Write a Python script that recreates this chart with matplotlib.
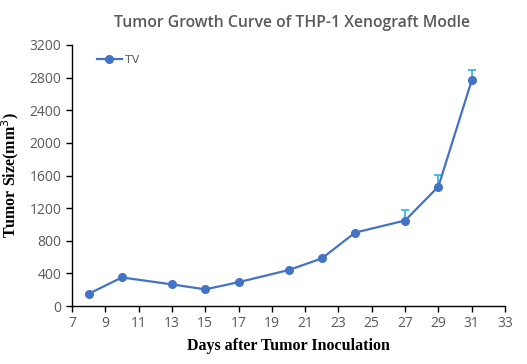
import matplotlib
matplotlib.use("Agg")
import matplotlib.pyplot as plt

# data
days = [8, 10, 13, 15, 17, 20, 22, 24, 27, 29, 31]
tv = [150, 350, 265, 204, 292, 440, 583, 900, 1048, 1464, 2765]
tv_err = [0, 0, 0, 0, 0, 0, 0, 0, 135, 138, 132]

x_ticks = list(range(7, 34, 2))
y_ticks = list(range(0, 3201, 400))

fig = plt.figure(figsize=(5.27, 3.64), dpi=100)
ax = fig.add_axes([72 / 527, 1 - 306 / 364, 433 / 527, 261 / 364])

# upper error bars only, drawn in light blue
ax.errorbar(days, tv, yerr=[[0] * len(tv_err), tv_err], fmt="none",
            ecolor="#2AB3E6", elinewidth=1.2, capsize=3, capthick=1.2, zorder=2)
ax.plot(days, tv, color="#4472C4", lw=1.6, marker="o", ms=5.5,
        label="TV", zorder=3)

ax.set_xlim(7, 33)
ax.set_ylim(0, 3200)
ax.set_xticks(x_ticks)
ax.set_yticks(y_ticks)

for s in ["top", "right"]:
    ax.spines[s].set_visible(False)
for s in ["left", "bottom"]:
    ax.spines[s].set_color("black")
    ax.spines[s].set_linewidth(1.0)

ax.tick_params(axis="both", direction="out", length=4, width=1.0,
               labelsize=10, labelcolor="#595959", colors="black")
for lbl in ax.get_xticklabels() + ax.get_yticklabels():
    lbl.set_color("#595959")
    lbl.set_family("Open Sans")

ax.set_xlabel("Days after Tumor Inoculation", family="Liberation Serif",
              fontweight="bold", fontsize=11.5, labelpad=5)
ax.set_ylabel("Tumor Size(mm$^3$)", family="Liberation Serif",
              fontweight="bold", fontsize=11.5, labelpad=6)

fig.text(0.555, 0.938, "Tumor Growth Curve of THP-1 Xenograft Modle",
         ha="center", va="center", fontsize=11.3, color="#595959",
         family="Open Sans", fontweight="semibold")

leg = ax.legend(loc="upper left", bbox_to_anchor=(0.035, 1.0), frameon=False,
                fontsize=8, handlelength=2.2, handletextpad=0.3)
for t in leg.get_texts():
    t.set_color("#595959")

fig.savefig("out.png", dpi=100)
